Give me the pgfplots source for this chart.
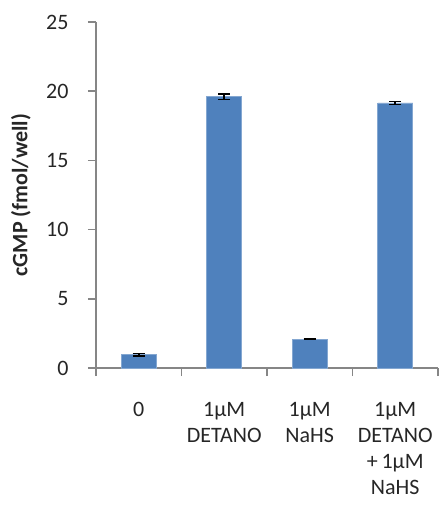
\documentclass[border=0pt]{standalone}
\usepackage{pgfplots}
\pgfplotsset{compat=1.18}
\usepackage{fontspec}
\setmainfont{Carlito}
\definecolor{barblue}{HTML}{4F81BD}
\definecolor{axgray}{HTML}{868686}
\begin{document}
\fontsize{22bp}{26bp}\selectfont
\begin{tikzpicture}
\useasboundingbox (-96bp,-141bp) rectangle (345bp,368bp);
\begin{axis}[
  scale only axis,
  width=342bp, height=346bp,
  ymin=0, ymax=25,
  xmin=-0.5, xmax=3.5,
  ytick={0,5,...,25},
  xtick={0,1,2,3},
  xticklabels={0, 1\textmu M\\DETANO, 1\textmu M\\NaHS, 1\textmu M\\DETANO\\+\,1\textmu M\\NaHS},
  minor xtick={-0.5,0.5,1.5,2.5,3.5},
  axis x line*=bottom, axis y line*=left,
  axis line style={axgray, line width=1.5bp, -},
  tick align=outside,
  ytick style={axgray, line width=1.5bp},
  major x tick style={draw=none},
  minor x tick style={axgray, line width=1.5bp},
  major tick length=8bp, minor tick length=8bp,
  /pgf/number format/assume math mode=true,
  ticklabel style={font=\fontsize{22bp}{26bp}\selectfont, text=black!85},
  xticklabel style={align=center, anchor=north, yshift=-19bp},
  yticklabel style={xshift=-12bp},
  ylabel={\bfseries cGMP (fmol/well)},
  every axis y label/.style={at={(rel axis cs:0,0.5)}, xshift=-75bp, rotate=90, anchor=center,
    font=\fontsize{22bp}{26bp}\selectfont, text=black!85},
  clip=false,
]
\addplot[ybar, bar width=35bp, fill=barblue, draw=barblue!70!white, line width=0.8bp,
  error bars/.cd, y dir=both, y explicit,
  error bar style={black, line width=1.6bp},
  error mark options={black, line width=1.6bp, mark size=6bp, rotate=90}]
  coordinates {
    (0,0.95) +- (0,0.10)
    (1,19.6) +- (0,0.20)
    (2,2.08) +- (0,0.03)
    (3,19.15) +- (0,0.10)
  };
\end{axis}
\end{tikzpicture}
\end{document}
